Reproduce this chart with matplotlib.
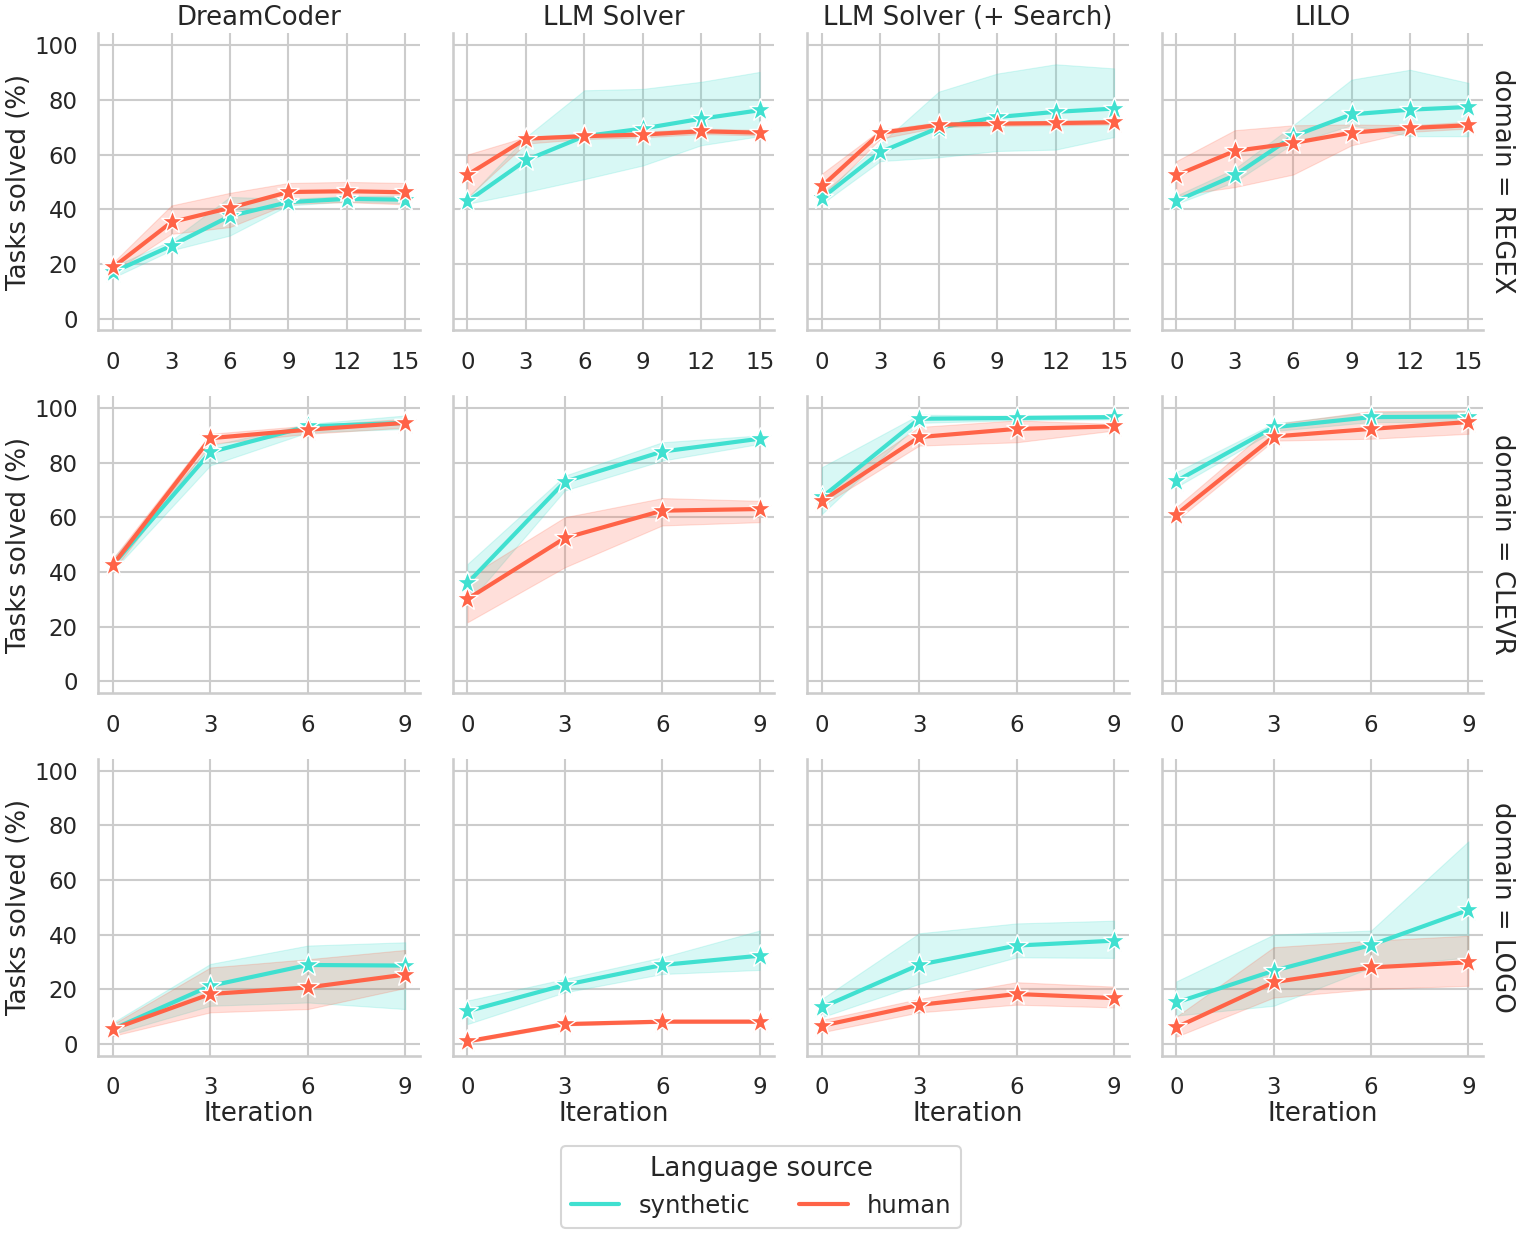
import matplotlib
matplotlib.use("Agg")
import matplotlib.pyplot as plt
import seaborn as sns
import numpy as np

sns.set_theme(style="whitegrid", context="talk")
plt.rcParams['font.family'] = ['DejaVu Sans']

methods = ["DreamCoder", "LLM Solver", "LLM Solver (+ Search)", "LILO"]
domains = ["REGEX", "CLEVR", "LOGO"]
sources = ["synthetic", "human"]
colors = {"synthetic": "turquoise", "human": "tomato"}

iters_regex = [0, 3, 6, 9, 12, 15]
iters_short = [0, 3, 6, 9]

# ---- REGEX ----
regex_dc_syn = [17.0, 26.7, 37.5, 42.6, 43.8, 43.5]
regex_dc_syn_lo = [15.0, 25.0, 30.4, 41.4, 42.8, 42.2]
regex_dc_syn_hi = [19.0, 28.6, 44.5, 43.8, 44.8, 45.0]
regex_dc_hum = [18.8, 35.3, 40.5, 46.3, 46.6, 46.2]
regex_dc_hum_lo = [17.0, 31.0, 33.5, 42.0, 42.6, 41.8]
regex_dc_hum_hi = [20.5, 41.4, 46.0, 49.6, 50.0, 49.6]

regex_llm_syn = [42.9, 57.9, 66.7, 69.5, 73.1, 76.2]
regex_llm_syn_lo = [42.0, 46.3, 51.0, 56.0, 63.4, 66.7]
regex_llm_syn_hi = [44.0, 66.4, 83.5, 84.0, 86.6, 90.2]
regex_llm_hum = [52.6, 65.8, 66.7, 67.3, 68.5, 68.0]
regex_llm_hum_lo = [44.4, 64.0, 65.7, 66.3, 67.5, 67.0]
regex_llm_hum_hi = [60.0, 66.4, 67.7, 68.3, 69.5, 69.0]

regex_srch_syn = [44.1, 60.9, 69.8, 73.7, 75.6, 76.8]
regex_srch_syn_lo = [42.0, 57.6, 59.0, 61.3, 61.8, 66.4]
regex_srch_syn_hi = [45.7, 64.0, 83.0, 89.6, 93.0, 91.5]
regex_srch_hum = [48.4, 67.9, 70.9, 71.3, 71.5, 71.8]
regex_srch_hum_lo = [44.4, 65.8, 70.0, 70.5, 70.7, 71.0]
regex_srch_hum_hi = [53.0, 69.0, 71.8, 72.1, 72.3, 72.6]

regex_lilo_syn = [43.0, 52.4, 66.7, 74.7, 76.4, 77.4]
regex_lilo_syn_lo = [42.0, 50.0, 64.0, 70.7, 66.7, 66.7]
regex_lilo_syn_hi = [45.0, 54.8, 70.7, 87.4, 91.0, 86.2]
regex_lilo_hum = [52.4, 61.3, 64.2, 68.0, 69.7, 70.7]
regex_lilo_hum_lo = [45.0, 48.1, 52.7, 63.4, 68.3, 69.5]
regex_lilo_hum_hi = [57.6, 68.9, 70.7, 71.0, 70.7, 72.0]

# ---- CLEVR ----
clevr_dc_syn = [42.7, 83.8, 93.2, 94.5]
clevr_dc_syn_lo = [40.5, 79.0, 91.0, 92.3]
clevr_dc_syn_hi = [45.0, 86.2, 94.1, 97.2]
clevr_dc_hum = [42.7, 88.9, 92.0, 94.5]
clevr_dc_hum_lo = [40.5, 86.8, 90.5, 92.8]
clevr_dc_hum_hi = [45.0, 90.5, 93.5, 96.0]

clevr_llm_syn = [35.9, 73.0, 84.0, 88.7]
clevr_llm_syn_lo = [28.3, 69.8, 80.7, 86.8]
clevr_llm_syn_hi = [42.9, 75.2, 87.4, 89.9]
clevr_llm_hum = [30.1, 52.4, 62.4, 63.0]
clevr_llm_hum_lo = [21.6, 41.7, 57.0, 58.2]
clevr_llm_hum_hi = [38.0, 60.0, 67.0, 66.0]

clevr_srch_syn = [67.3, 96.0, 96.3, 96.6]
clevr_srch_syn_lo = [61.2, 94.5, 95.5, 95.8]
clevr_srch_syn_hi = [78.3, 97.5, 97.1, 97.4]
clevr_srch_hum = [65.9, 89.3, 92.3, 93.2]
clevr_srch_hum_lo = [64.3, 86.2, 87.4, 91.7]
clevr_srch_hum_hi = [68.5, 93.0, 95.4, 94.1]

clevr_lilo_syn = [73.2, 92.9, 96.6, 96.8]
clevr_lilo_syn_lo = [71.0, 91.5, 94.8, 94.8]
clevr_lilo_syn_hi = [76.5, 94.3, 98.4, 98.8]
clevr_lilo_hum = [61.0, 89.5, 92.3, 94.8]
clevr_lilo_hum_lo = [58.8, 88.0, 88.7, 90.5]
clevr_lilo_hum_hi = [63.7, 94.0, 98.8, 99.0]

# ---- LOGO ----
logo_dc_syn = [5.5, 21.3, 28.9, 28.7]
logo_dc_syn_lo = [3.7, 14.0, 15.2, 12.8]
logo_dc_syn_hi = [7.9, 29.3, 36.0, 37.2]
logo_dc_hum = [5.5, 18.3, 20.7, 25.4]
logo_dc_hum_lo = [3.0, 11.6, 12.8, 20.5]
logo_dc_hum_hi = [7.3, 28.0, 31.0, 34.4]

logo_llm_syn = [12.0, 21.6, 28.9, 32.3]
logo_llm_syn_lo = [7.3, 18.9, 25.6, 27.1]
logo_llm_syn_hi = [15.9, 23.8, 31.7, 41.5]
logo_llm_hum = [1.0, 7.3, 8.2, 8.2]
logo_llm_hum_lo = [0.5, 6.8, 7.7, 7.7]
logo_llm_hum_hi = [1.5, 7.8, 8.7, 8.7]

logo_srch_syn = [13.4, 29.0, 36.0, 37.8]
logo_srch_syn_lo = [9.8, 22.0, 31.7, 31.5]
logo_srch_syn_hi = [16.5, 40.5, 44.1, 45.1]
logo_srch_hum = [6.7, 14.3, 18.3, 16.8]
logo_srch_hum_lo = [4.3, 11.6, 14.4, 13.4]
logo_srch_hum_hi = [8.8, 16.5, 22.6, 21.0]

logo_lilo_syn = [15.2, 26.8, 36.2, 49.0]
logo_lilo_syn_lo = [10.4, 14.0, 28.0, 31.7]
logo_lilo_syn_hi = [22.9, 40.0, 41.5, 74.1]
logo_lilo_hum = [6.1, 22.6, 28.0, 29.9]
logo_lilo_hum_lo = [2.7, 17.0, 20.1, 21.3]
logo_lilo_hum_hi = [10.0, 35.4, 37.8, 39.6]

data = {
    "REGEX": {
        "DreamCoder": [(regex_dc_syn, regex_dc_syn_lo, regex_dc_syn_hi), (regex_dc_hum, regex_dc_hum_lo, regex_dc_hum_hi)],
        "LLM Solver": [(regex_llm_syn, regex_llm_syn_lo, regex_llm_syn_hi), (regex_llm_hum, regex_llm_hum_lo, regex_llm_hum_hi)],
        "LLM Solver (+ Search)": [(regex_srch_syn, regex_srch_syn_lo, regex_srch_syn_hi), (regex_srch_hum, regex_srch_hum_lo, regex_srch_hum_hi)],
        "LILO": [(regex_lilo_syn, regex_lilo_syn_lo, regex_lilo_syn_hi), (regex_lilo_hum, regex_lilo_hum_lo, regex_lilo_hum_hi)],
    },
    "CLEVR": {
        "DreamCoder": [(clevr_dc_syn, clevr_dc_syn_lo, clevr_dc_syn_hi), (clevr_dc_hum, clevr_dc_hum_lo, clevr_dc_hum_hi)],
        "LLM Solver": [(clevr_llm_syn, clevr_llm_syn_lo, clevr_llm_syn_hi), (clevr_llm_hum, clevr_llm_hum_lo, clevr_llm_hum_hi)],
        "LLM Solver (+ Search)": [(clevr_srch_syn, clevr_srch_syn_lo, clevr_srch_syn_hi), (clevr_srch_hum, clevr_srch_hum_lo, clevr_srch_hum_hi)],
        "LILO": [(clevr_lilo_syn, clevr_lilo_syn_lo, clevr_lilo_syn_hi), (clevr_lilo_hum, clevr_lilo_hum_lo, clevr_lilo_hum_hi)],
    },
    "LOGO": {
        "DreamCoder": [(logo_dc_syn, logo_dc_syn_lo, logo_dc_syn_hi), (logo_dc_hum, logo_dc_hum_lo, logo_dc_hum_hi)],
        "LLM Solver": [(logo_llm_syn, logo_llm_syn_lo, logo_llm_syn_hi), (logo_llm_hum, logo_llm_hum_lo, logo_llm_hum_hi)],
        "LLM Solver (+ Search)": [(logo_srch_syn, logo_srch_syn_lo, logo_srch_syn_hi), (logo_srch_hum, logo_srch_hum_lo, logo_srch_hum_hi)],
        "LILO": [(logo_lilo_syn, logo_lilo_syn_lo, logo_lilo_syn_hi), (logo_lilo_hum, logo_lilo_hum_lo, logo_lilo_hum_hi)],
    },
}
iters = {"REGEX": iters_regex, "CLEVR": iters_short, "LOGO": iters_short}

fig, axes = plt.subplots(3, 4, figsize=(15.22, 12.36), dpi=100, sharey=True)
fig.subplots_adjust(left=0.0647, right=0.9744, top=0.973, bottom=0.146,
                    wspace=0.103, hspace=0.222)

for r, dom in enumerate(domains):
    x = iters[dom]
    for c, meth in enumerate(methods):
        ax = axes[r, c]
        for s_i, src in enumerate(sources):
            m, lo, hi = data[dom][meth][s_i]
            col = colors[src]
            ax.fill_between(x, lo, hi, color=col, alpha=0.2, linewidth=0.8)
            ax.plot(x, m, color=col, lw=3.0, marker="*", markersize=17,
                    markeredgecolor="white", markeredgewidth=1.0, label=src)
        ax.set_xticks(x)
        ax.set_xlim(x[0] - 0.05 * (x[-1] - x[0]), x[-1] + 0.05 * (x[-1] - x[0]))
        ax.set_ylim(-4.2, 104.3)
        ax.set_yticks([0, 20, 40, 60, 80, 100])
        ax.tick_params(labelsize=16.5, pad=6)
        for sp in ["top", "right"]:
            ax.spines[sp].set_visible(False)
        for sp in ["left", "bottom"]:
            ax.spines[sp].set_color("#cccccc")
        if c == 0:
            ax.set_ylabel("Tasks solved (%)", fontsize=18.7, labelpad=1.5)
        if r == 2:
            ax.set_xlabel("Iteration", fontsize=18.7, labelpad=1)
        if r == 0:
            ax.set_title(meth, fontsize=18.7, pad=6)
        if c == 3:
            ax.annotate(f"domain = {dom}", xy=(1.02, 0.5), xycoords="axes fraction",
                        rotation=270, ha="left", va="center", fontsize=18.7)

handles = [plt.Line2D([], [], color=colors[s], lw=3.0) for s in sources]
leg = fig.legend(handles, sources, title="Language source", loc="lower center",
                 bbox_to_anchor=(0.5, -0.003), ncol=2, fontsize=17.5,
                 title_fontsize=18.7, frameon=True)

fig.savefig("out.png", dpi=100)
